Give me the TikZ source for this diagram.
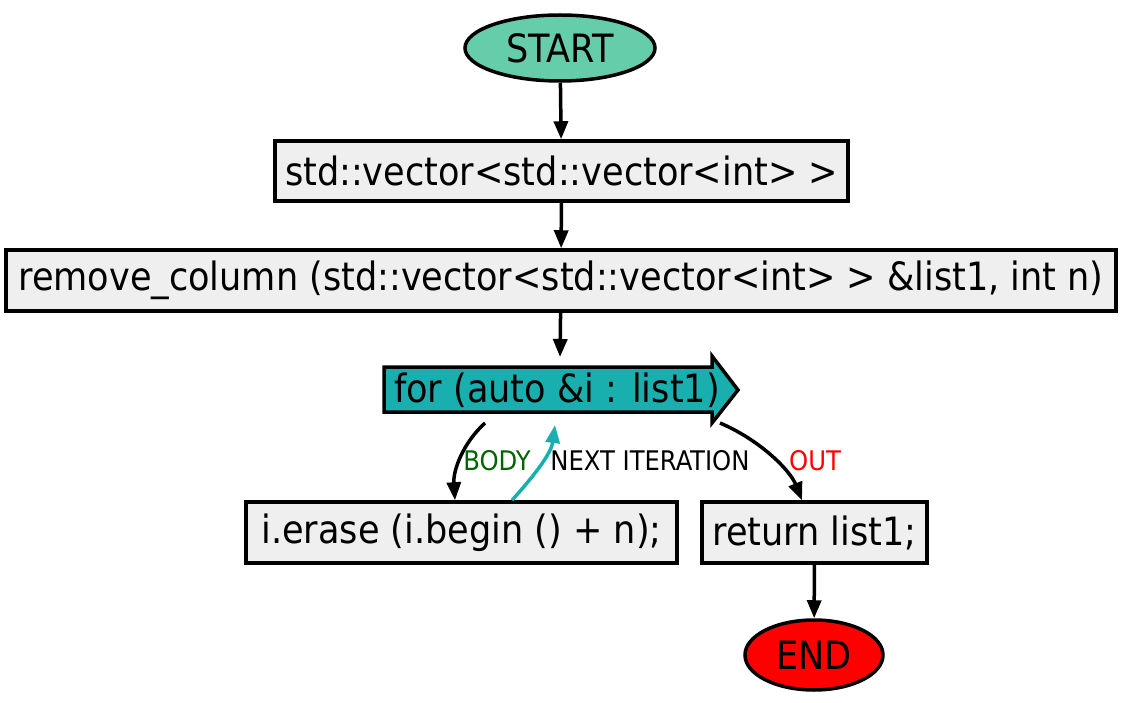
\documentclass[tikz,border=0pt]{standalone}
\usepackage{fontspec}
\setmainfont{DejaVu Sans Condensed}
\usetikzlibrary{arrows.meta,shapes.geometric}
\definecolor{startc}{HTML}{66CDAA}
\definecolor{loopc}{HTML}{1AAFAF}
\definecolor{boxc}{HTML}{EFEFEF}
\definecolor{bodyc}{HTML}{006400}
\tikzset{
  every picture/.style={x=1pt,y=-1pt},
  stepbox/.style={draw=black,line width=3.5pt,fill=boxc,inner sep=0pt,font=\fontsize{39}{44}\selectfont},
  term/.style={ellipse,draw=black,line width=3.5pt,inner sep=0pt,font=\fontsize{39}{44}\selectfont},
  conn/.style={line width=3.5pt,-{Triangle[length=18pt,width=14pt]}},
  lbl/.style={font=\fontsize{27}{30}\selectfont,inner sep=0pt},
}
\begin{document}
\begin{tikzpicture}
\useasboundingbox (0,0) rectangle (1122,703);
\node[term,fill=startc,minimum width=190pt,minimum height=66pt] (start) at (560,48) {START};
\node[stepbox,minimum width=573pt,minimum height=60pt] (vec) at (561.5,171) {std::vector<std::vector<int> >};
\node[stepbox,minimum width=1110pt,minimum height=61pt] (rem) at (561,280.5) {remove\_column (std::vector<std::vector<int> > \&list1, int n)};
\draw[line width=3.5pt,fill=loopc] (384,367) -- (712,367) -- (712,356) -- (738,390) -- (712,423) -- (712,412) -- (384,412) -- cycle;
\node[inner sep=0pt,font=\fontsize{39}{44}\selectfont] (loop) at (557,390) {for (auto \&i : list1)};
\node[stepbox,minimum width=431pt,minimum height=61pt] (erase) at (461.5,532.5) {i.erase (i.begin () + n);};
\node[stepbox,minimum width=225pt,minimum height=61pt] (ret) at (814.5,532.5) {return list1;};
\node[term,fill=red,minimum width=138pt,minimum height=70pt] (end) at (814,655) {END};
\coordinate (loopin) at ([shift={(0,-33)}]loop.center -| start.center);
\coordinate (bodyout) at ([shift={(-72,33)}]loop.center);
\coordinate (nextin) at ([shift={(-2,35)}]loop.center);
\coordinate (outout) at ([shift={(163,33)}]loop.center);
\draw[conn] (start) -- (vec);
\draw[conn] (vec) -- (rem);
\draw[conn] (rem) -- (loopin);
\draw[conn] (bodyout) .. controls +(-22,20) and +(-2,-30) .. ([xshift=-6.5pt]erase.north);
\draw[conn,loopc] ([xshift=50.5pt]erase.north) .. controls +(18,-20) and +(-4,30) .. (nextin);
\draw[conn] (outout) .. controls +(40,17) and +(-12,-30) .. ([xshift=-12.5pt]ret.north);
\draw[conn] (ret) -- (end);
\node[lbl,text=bodyc] (lb) at (497,461) {BODY};
\node[lbl] (ln) at (650,461) {NEXT ITERATION};
\node[lbl,text=red] (lo) at (815,461) {OUT};
\end{tikzpicture}
\end{document}
